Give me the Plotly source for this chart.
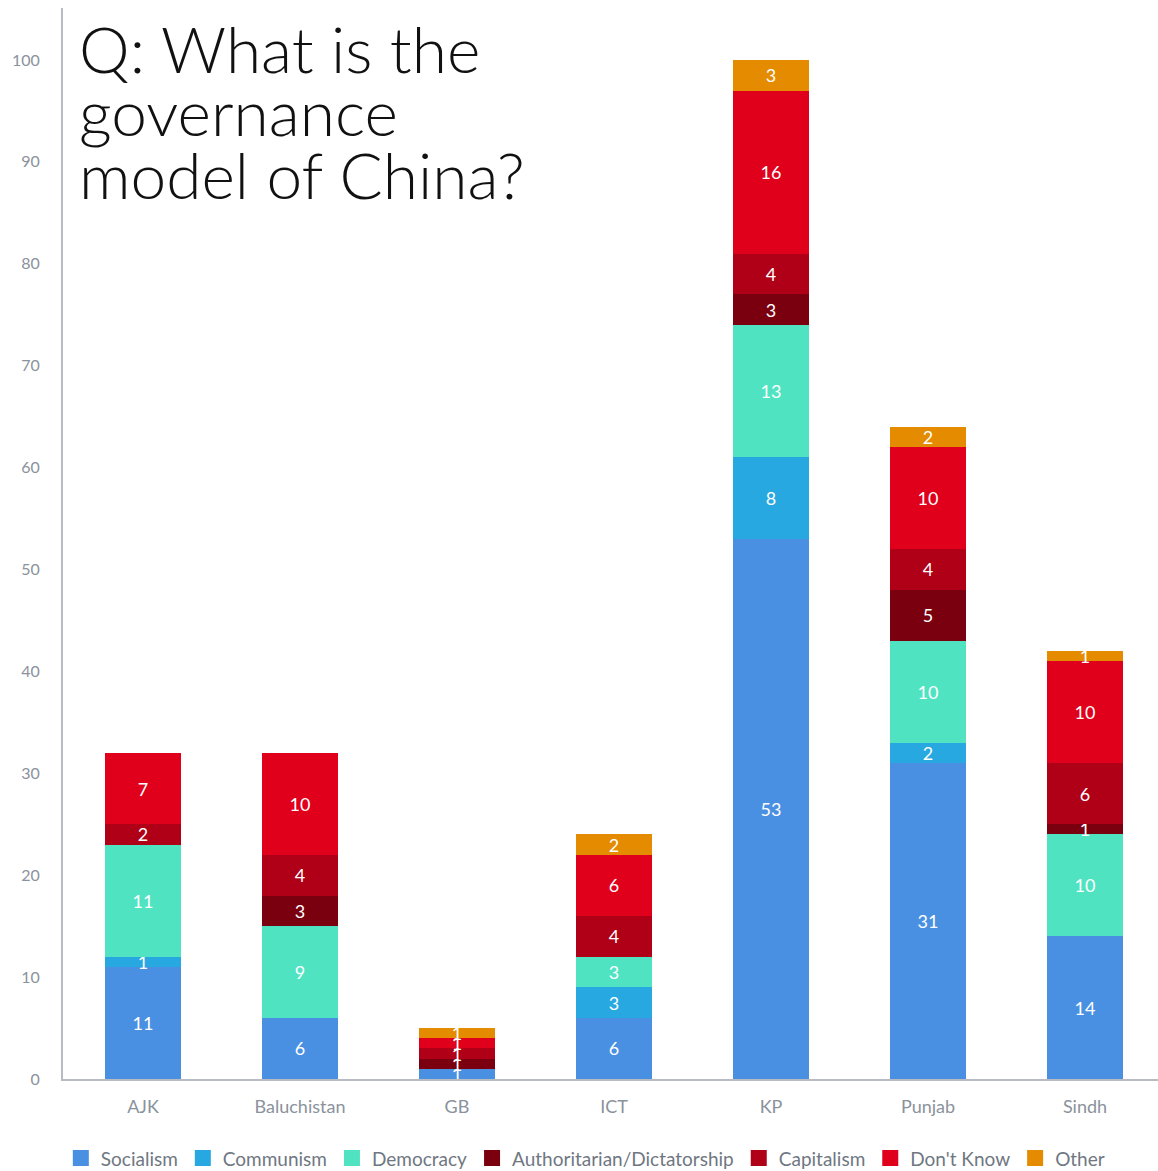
import plotly.graph_objects as go

# Survey responses by region (percent of respondents)
regions = ["AJK", "Baluchistan", "GB", "ICT", "KP", "Punjab", "Sindh"]

socialism = [11, 6, 1, 6, 53, 31, 14]
communism = [1, 0, 0, 3, 8, 2, 0]
democracy = [11, 9, 0, 3, 13, 10, 10]
authoritarian = [0, 3, 1, 0, 3, 5, 1]
capitalism = [2, 4, 1, 4, 4, 4, 6]
dont_know = [7, 10, 1, 6, 16, 10, 10]
other = [0, 0, 1, 2, 3, 2, 1]

series = [
    ("Socialism", socialism, "#4a90e2"),
    ("Communism", communism, "#27a8e0"),
    ("Democracy", democracy, "#50e3c2"),
    ("Authoritarian/Dictatorship", authoritarian, "#7a000f"),
    ("Capitalism", capitalism, "#b00018"),
    ("Don't Know", dont_know, "#e0001c"),
    ("Other", other, "#e58b00"),
]

title_lines = ["Q: What is the", "governance", "model of China?"]

FONT = "Lato"
GREY = "#8a929c"

fig = go.Figure()
for name, vals, color in series:
    fig.add_trace(go.Bar(
        name=name,
        x=regions,
        y=vals,
        marker=dict(color=color, line=dict(width=0)),
        text=[str(v) if v else "" for v in vals],
        textposition="inside",
        insidetextanchor="middle",
        textangle=0,
        textfont=dict(family=FONT, size=18, color="white"),
        constraintext="none",
        hoverinfo="name+y",
        showlegend=False,
    ))

# Legend entries with larger square swatches
for name, vals, color in series:
    fig.add_trace(go.Scatter(
        name=name, x=[None], y=[None], mode="markers",
        marker=dict(symbol="square", size=18, color=color),
        showlegend=True, hoverinfo="skip",
    ))

# Question title, one annotation per line
title_y = [0.962, 0.903, 0.845]
for line, yy in zip(title_lines, title_y):
    fig.add_annotation(
        text=line, xref="paper", yref="paper", x=0.0125, y=yy,
        xanchor="left", yanchor="middle", showarrow=False,
        font=dict(family=FONT, size=64, color="#111111", weight=300),
    )

fig.update_layout(
    barmode="stack",
    bargap=0.51,
    width=1158, height=1171,
    margin=dict(l=63, r=0, t=8, b=92, autoexpand=False),
    plot_bgcolor="white", paper_bgcolor="white",
    uniformtext=dict(minsize=18, mode="show"),
    font=dict(family=FONT, color=GREY),
    legend=dict(
        orientation="h", x=0.477, xanchor="center",
        y=-0.074, yanchor="middle", traceorder="normal",
        itemsizing="trace", itemwidth=30,
        font=dict(family=FONT, size=19, color="#6f7782"),
    ),
    showlegend=True,
)

fig.update_xaxes(
    range=[-0.5096, 6.465],
    showline=True, linecolor="#b8bcc2", linewidth=2,
    showgrid=False, ticks="", tickangle=0,
    tickfont=dict(family=FONT, size=18, color=GREY),
    ticklabelstandoff=10,
)
fig.update_yaxes(
    range=[0, 105.1], dtick=10, showline=True, linecolor="#b8bcc2", linewidth=2,
    showgrid=False, zeroline=False, ticks="",
    tickfont=dict(family=FONT, size=16, color=GREY),
    ticklabelstandoff=18,
)

fig.write_html("out.html")
